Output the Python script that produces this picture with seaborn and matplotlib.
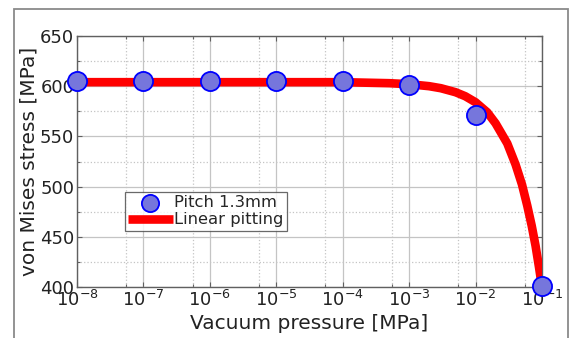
import numpy as np
import pandas as pd
import matplotlib
matplotlib.use("Agg")
import matplotlib.pyplot as plt
import seaborn as sns
from matplotlib.ticker import FixedLocator, FuncFormatter, NullFormatter
from matplotlib.patches import Rectangle

# Data
pressure = [1e-8, 1e-7, 1e-6, 1e-5, 1e-4, 1e-3, 1e-2, 1e-1]
stress_pts = [605, 605, 605, 605, 605, 601, 571, 401]

line_pressure = [1e-8, 1e-7, 1e-6, 1e-5, 1e-4, 5e-4, 1e-3, 2e-3, 3e-3, 5e-3, 7e-3,
                 1e-2, 1.5e-2, 2e-2, 3e-2, 4e-2, 5e-2, 6e-2, 7e-2, 8e-2, 9e-2, 1e-1]
line_stress = [604, 604, 604, 604, 604, 603, 602, 600, 598, 594, 590,
               584, 574, 563, 543, 522, 502, 481, 461, 441, 420, 400]

xticks = [1e-8, 1e-7, 1e-6, 1e-5, 1e-4, 1e-3, 1e-2, 1e-1]
yticks = [400, 450, 500, 550, 600, 650]

sns.set_theme(style="white")
plt.rcParams['font.family'] = ['DejaVu Sans']

fig = plt.figure(figsize=(5.7, 3.38), dpi=100)
ax = fig.add_axes([77/570, 1-287/338, (542-77)/570, (287-36)/338])

# outer frame
fig.patches.append(Rectangle((14/570, -0.01), (568-14)/570, 1-9/338+0.01,
                             transform=fig.transFigure, fill=False,
                             edgecolor='#8a8a8a', linewidth=1.3))

df_line = pd.DataFrame({"p": line_pressure, "s": line_stress})
df_pts = pd.DataFrame({"p": pressure, "s": stress_pts})

ax.set_xscale('log')
sns.lineplot(data=df_line, x="p", y="s", ax=ax, color='#ff0000', linewidth=6.2,
             label='Linear pitting', zorder=3, solid_capstyle='butt')
sns.scatterplot(data=df_pts, x="p", y="s", ax=ax, s=190, color='#7676dc',
                edgecolor='#0000ff', linewidth=1.3, label='Pitch 1.3mm', zorder=4,
                clip_on=False)

ax.set_xlim(1e-8, 1e-1)
ax.set_ylim(400, 650)

ax.xaxis.set_major_locator(FixedLocator(xticks))
minor_x = [t * 10**-0.26 for t in xticks[1:]]
ax.xaxis.set_minor_locator(FixedLocator(minor_x))
ax.xaxis.set_minor_formatter(NullFormatter())
ax.xaxis.set_major_formatter(FuncFormatter(lambda v, p: r'$10^{%d}$' % int(round(np.log10(v)))))
ax.yaxis.set_major_locator(FixedLocator(yticks))
ax.yaxis.set_minor_locator(FixedLocator([425, 475, 525, 575, 625]))

ax.grid(True, which='major', color='#c4c4c4', linestyle='-', linewidth=0.9)
ax.grid(True, which='minor', color='#c4c4c4', linestyle=':', linewidth=0.9)
ax.set_axisbelow(True)

for sp in ax.spines.values():
    sp.set_color('#606060')
    sp.set_linewidth(1.0)

ax.tick_params(which='both', direction='in', top=True, right=True, bottom=True, left=True,
               colors='#606060', labelcolor='#222222', labelsize=13, length=3.5, width=0.8, pad=2)
ax.tick_params(which='minor', length=2.5)

ax.set_xlabel('Vacuum pressure [MPa]', fontsize=14.5, color='#222222', labelpad=3)
ax.set_ylabel('von Mises stress [MPa]', fontsize=14.5, color='#222222', labelpad=1)

handles, labels = ax.get_legend_handles_labels()
order = [labels.index('Pitch 1.3mm'), labels.index('Linear pitting')]
leg = ax.legend([handles[i] for i in order], [labels[i] for i in order],
                loc='upper left', bbox_to_anchor=((125-77)/465, (287-192)/251),
                fontsize=11.8, frameon=True, fancybox=False, borderpad=0.2,
                labelspacing=0.12, handlelength=2.7, handletextpad=0.1,
                borderaxespad=0, markerscale=0.9)
leg.get_frame().set_edgecolor('#444444')
leg.get_frame().set_linewidth(0.9)

fig.savefig('out.png', dpi=100)
